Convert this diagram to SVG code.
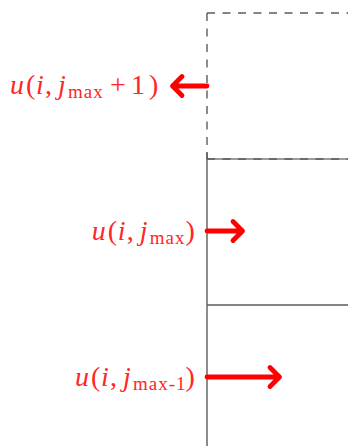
<svg xmlns="http://www.w3.org/2000/svg" width="348" height="446" viewBox="0 0 348 446">
<style>
.grid{stroke:#5c5c5c;stroke-width:1.4;fill:none}
.soft{stroke:#7a7a7a;stroke-width:1.4;fill:none}
.dash{stroke-dasharray:8 7.5}
.arr{stroke:#ff0000;stroke-width:4.8;fill:none;stroke-linecap:round;stroke-linejoin:round}
.lbl{font-family:'Liberation Serif','Times New Roman',serif;font-size:28px;fill:#ff2626}
.it{font-style:italic}
.sub{font-size:19px;letter-spacing:1px}
</style>
<rect width="348" height="446" fill="#ffffff"/>
<g id="cell-ghost">
<path class="grid dash" d="M207,13 H348"/>
<path class="grid dash" d="M207,13 V159"/>
</g>
<g id="cell-jmax">
<path class="soft" d="M207,159 H348"/>
<path class="grid dash" d="M207,159 H348"/>
<path class="grid" d="M207,152 V305"/>
</g>
<g id="cell-jmax-1">
<path class="grid" d="M207,305 H348 M207,305 V446"/>
</g>
<g id="connectors">
<path class="arr" d="M207,86 H173 M182,76.5 L172.5,86 L182,95.5"/>
<path class="arr" d="M207,231 H242 M233,221.5 L242.5,231 L233,240.5"/>
<path class="arr" d="M207,377 H279 M270,367.5 L279.5,377 L270,386.5"/>
</g>
<g id="label-ghost">
<text class="lbl" font-family="Liberation Serif, serif" y="94"><tspan class="it" x="10">u</tspan><tspan x="26">(</tspan><tspan class="it" x="36">i</tspan><tspan x="45">,</tspan><tspan class="it" x="58">j</tspan><tspan class="sub" x="68" dy="4">max</tspan><tspan x="110" dy="-4">+</tspan><tspan x="131">1</tspan><tspan x="149">)</tspan></text>
</g>
<g id="label-jmax">
<text class="lbl" font-family="Liberation Serif, serif" y="240"><tspan class="it" x="91.7">u</tspan><tspan x="107.7">(</tspan><tspan class="it" x="117.7">i</tspan><tspan x="126.7">,</tspan><tspan class="it" x="139.7">j</tspan><tspan class="sub" x="149.7" dy="4">max</tspan><tspan x="185.5" dy="-4">)</tspan></text>
</g>
<g id="label-jmax-1">
<text class="lbl" font-family="Liberation Serif, serif" y="386"><tspan class="it" x="75">u</tspan><tspan x="91">(</tspan><tspan class="it" x="101">i</tspan><tspan x="110">,</tspan><tspan class="it" x="123">j</tspan><tspan class="sub" x="133" dy="4">max-1</tspan><tspan x="185.5" dy="-4">)</tspan></text>
</g>
</svg>
